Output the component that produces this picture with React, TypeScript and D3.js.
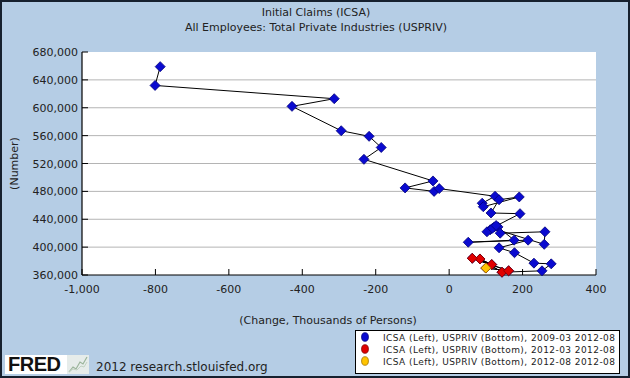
import React from "react";
import * as d3 from "d3";

const W = 630;
const H = 378;

const months: string[] = [
  "2009-03","2009-04","2009-05","2009-06","2009-07","2009-08","2009-09","2009-10","2009-11","2009-12",
  "2010-01","2010-02","2010-03","2010-04","2010-05","2010-06","2010-07","2010-08","2010-09","2010-10","2010-11","2010-12",
  "2011-01","2011-02","2011-03","2011-04","2011-05","2011-06","2011-07","2011-08","2011-09","2011-10","2011-11","2011-12",
  "2012-01","2012-02","2012-03","2012-04","2012-05","2012-06","2012-07","2012-08",
];
// USPRIV monthly change, thousands of persons (bottom axis)
const usprivChange: number[] = [
  -787, -801, -313, -428, -294, -218, -185, -232, -44, -120,
  -41, -27, 125, 90, 93, 191, 136, 114, 193, 123, 112, 103,
  133, 139, 261, 259, 118, 128, 177, 52, 215, 136, 178, 231,
  278, 253, 144, 84, 116, 63, 162, 100,
];
// ICSA initial claims, thousands (left axis)
const icsaK: number[] = [
  659, 632, 613, 602, 567, 559, 543, 526, 495, 485,
  480, 484, 473, 463, 458, 472, 468, 449, 448, 429, 425, 422,
  429, 420, 422, 404, 427, 431, 410, 407, 410, 399, 392, 377,
  376, 366, 364, 383, 375, 384, 366, 370,
];

const xTicks: number[] = [-1000, -800, -600, -400, -200, 0, 200, 400];
const yTicks: number[] = [360000, 400000, 440000, 480000, 520000, 560000, 600000, 640000, 680000];

const legendLabels: string[] = [
  "ICSA (Left), USPRIV (Bottom), 2009-03 2012-08",
  "ICSA (Left), USPRIV (Bottom), 2012-03 2012-08",
  "ICSA (Left), USPRIV (Bottom), 2012-08 2012-08",
];
const seriesStart: string[] = ["2009-03", "2012-03", "2012-08"];
const seriesColors: string[] = ["#0a0ad0", "#e00000", "#ffc400"];
const seriesStroke: string[] = ["#00007a", "#800000", "#a07000"];

const FONT = "'DejaVu Sans', Verdana, sans-serif";

export default function App() {
  const left = 82, right = 596, top = 52, bottom = 275;
  const x = d3.scaleLinear().domain([-1000, 400]).range([left, right]);
  const y = d3.scaleLinear().domain([360000, 680000]).range([bottom, top]);

  const data = months.map((m, i) => ({ m, cx: usprivChange[i], cy: icsaK[i] * 1000 }));
  const line = d3.line<{ cx: number; cy: number }>().x(d => x(d.cx)).y(d => y(d.cy));
  const fmt = (v: number) => d3.format(",")(v).replace("\u2212", "-");

  const diamond = (cx: number, cy: number, fill: string, stroke: string, key: string) => {
    const r = 5;
    return (
      <path key={key} d={`M${cx},${cy - r}L${cx + r},${cy}L${cx},${cy + r}L${cx - r},${cy}Z`}
        fill={fill} stroke={stroke} strokeWidth={0.8} />
    );
  };

  return (
    <svg width={W} height={H} style={{ position: "absolute", left: 0, top: 0, display: "block" }}>
      <rect x={0} y={0} width={W} height={H} fill="#b5cde5" />
      <rect x={1} y={1} width={W - 2} height={H - 2} fill="none" stroke="#16202e" strokeWidth={2} />

      <text x={316} y={16} textAnchor="middle" fontFamily={FONT} fontSize={11} fill="#222">Initial Claims (ICSA)</text>
      <text x={316} y={31} textAnchor="middle" fontFamily={FONT} fontSize={11} fill="#222">All Employees: Total Private Industries (USPRIV)</text>

      <rect x={left} y={top} width={right - left} height={bottom - top} fill="#ffffff" />
      {yTicks.slice(1, -1).map(t => (
        <line key={"g" + t} x1={left} x2={right} y1={y(t)} y2={y(t)} stroke="#b4b4b4" strokeWidth={1} />
      ))}
      {yTicks.map(t => (
        <g key={"yt" + t}>
          <line x1={left} x2={left + 6} y1={y(t)} y2={y(t)} stroke="#000" strokeWidth={1} />
          <text x={left - 4} y={y(t) + 4} textAnchor="end" fontFamily={FONT} fontSize={11} fill="#222">{fmt(t)}</text>
        </g>
      ))}
      {xTicks.map(t => (
        <g key={"xt" + t}>
          <line x1={x(t)} x2={x(t)} y1={bottom} y2={bottom - 6} stroke="#000" strokeWidth={1} />
          <text x={x(t)} y={bottom + 18} textAnchor="middle" fontFamily={FONT} fontSize={11} fill="#222">{fmt(t)}</text>
        </g>
      ))}
      <line x1={left} x2={left} y1={top} y2={bottom} stroke="#000" strokeWidth={1.2} />
      <line x1={left} x2={right} y1={bottom} y2={bottom} stroke="#000" strokeWidth={1.2} />

      <text transform={`translate(18,${(top + bottom) / 2}) rotate(-90)`} textAnchor="middle" fontFamily={FONT} fontSize={11} fill="#222">(Number)</text>
      <text x={328} y={324} textAnchor="middle" fontFamily={FONT} fontSize={11} fill="#222">(Change, Thousands of Persons)</text>

      <path d={line(data) || ""} fill="none" stroke="#000" strokeWidth={1} />
      {seriesStart.map((s, si) => {
        const pts = data.filter(d => d.m >= s);
        return (
          <g key={"s" + si}>
            {si > 0 && <path d={line(pts) || ""} fill="none" stroke="#000" strokeWidth={1} />}
            {pts.map((d, i) => diamond(x(d.cx), y(d.cy), seriesColors[si], seriesStroke[si], `${si}-${i}`))}
          </g>
        );
      })}

      <rect x={355.5} y={330.5} width={264} height={43} fill="#fff" stroke="#000" strokeWidth={1} />
      {legendLabels.map((l, i) => (
        <g key={"l" + i}>
          <ellipse cx={365} cy={337 + i * 12} rx={3.4} ry={4.3} fill={seriesColors[i]} stroke={seriesStroke[i]} strokeWidth={0.8} />
          <text x={383} y={340.5 + i * 12} fontFamily={FONT} fontSize={9} fill="#222" textLength={232} lengthAdjust="spacing">{l}</text>
        </g>
      ))}

      <rect x={5} y={355} width={62} height={19} fill="#ffffff" />
      <text x={8} y={371} fontFamily="'Liberation Sans', Arial, sans-serif" fontWeight="bold" fontSize={20} fill="#111" letterSpacing={-0.5}>FRED</text>
      <rect x={67} y={355} width={22} height={19} fill="#e6ecea" />
      <polyline points="69,372 73,367 76,369 80,362 83,364 87,357" fill="none" stroke="#9ab49a" strokeWidth={1.2} />
      <polyline points="69,372 73,369 77,370 81,366 84,367 87,362" fill="none" stroke="#c2d2c2" strokeWidth={1} />
      <text x={96} y={371} fontFamily={FONT} fontSize={12} fill="#222">2012 research.stlouisfed.org</text>
    </svg>
  );
}
